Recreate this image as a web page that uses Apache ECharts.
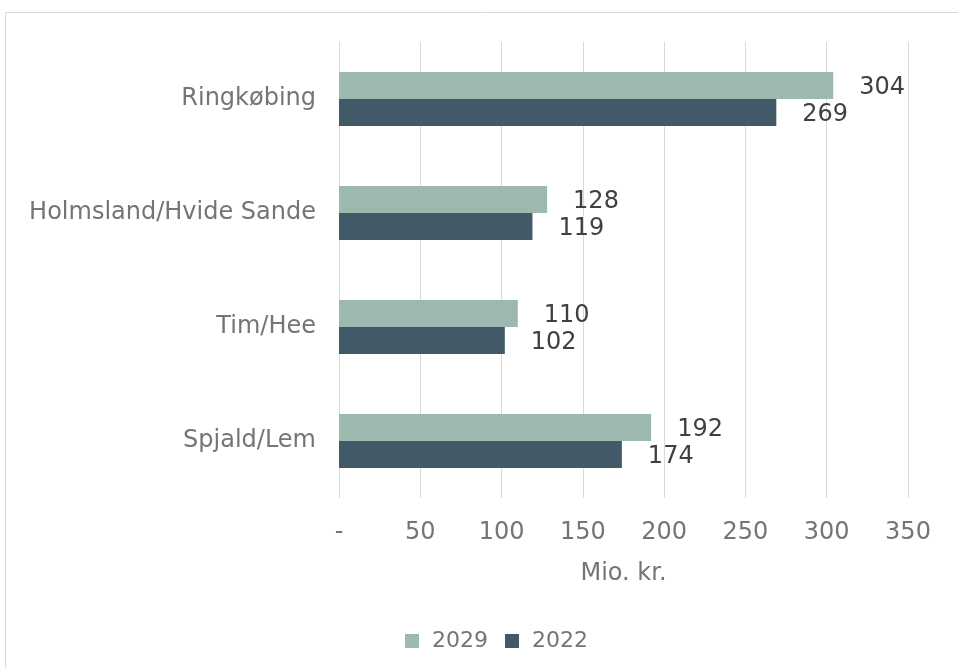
<!DOCTYPE html>
<html>
<head>
<meta charset="utf-8">
<script src="https://cdn.jsdelivr.net/npm/echarts@6/dist/echarts.min.js"></script>
<style>
html,body{margin:0;padding:0;background:#fff;}
#chart{width:958px;height:668px;}
</style>
</head>
<body>
<div id="chart"></div>
<script>
const categories = ['Ringkøbing', 'Holmsland/Hvide Sande', 'Tim/Hee', 'Spjald/Lem'];
const values2029 = [304, 128, 110, 192];
const values2022 = [269, 119, 102, 174];
const seriesNames = ['2029', '2022'];
const axisName = 'Mio. kr.';

const FONT = 'DejaVu Sans';
const GREY = '#757575';
const chart = echarts.init(document.getElementById('chart'));
const labelCfg = {
  show: true, position: 'right', distance: 26, offset: [0, 2],
  fontFamily: FONT, fontSize: 24, color: '#404040'
};
chart.setOption({
  animation: false,
  graphic: [{
    type: 'rect', silent: true,
    shape: { x: 5.5, y: 12.5, width: 1000, height: 1000 },
    style: { fill: 'none', stroke: '#d9d9d9', lineWidth: 1 }
  }],
  grid: { left: 339, right: 50, top: 42, bottom: 170 },
  legend: {
    bottom: 11, left: 400, itemWidth: 14, itemHeight: 14, itemGap: 17,
    icon: 'rect',
    textStyle: { fontFamily: FONT, fontSize: 22, color: GREY, padding: [0, 0, 0, 8] },
    data: seriesNames
  },
  xAxis: {
    type: 'value', min: 0, max: 350, interval: 50,
    name: axisName, nameLocation: 'middle', nameGap: 64,
    nameTextStyle: { fontFamily: FONT, fontSize: 24, color: GREY },
    axisLine: { show: false }, axisTick: { show: false },
    splitLine: { show: true, lineStyle: { color: '#d9d9d9', width: 1 } },
    axisLabel: {
      margin: 23, fontFamily: FONT, fontSize: 24, color: GREY,
      formatter: v => v === 0 ? '-' : String(v)
    }
  },
  yAxis: {
    type: 'category', data: categories, inverse: true,
    axisLine: { show: true, lineStyle: { color: '#d9d9d9', width: 1 } },
    axisTick: { show: false },
    axisLabel: { margin: 23, fontFamily: FONT, fontSize: 24, color: GREY }
  },
  series: [
    { name: seriesNames[0], type: 'bar', data: values2029, barWidth: 27, barGap: '0%',
      itemStyle: { color: '#9db8ae' }, label: labelCfg },
    { name: seriesNames[1], type: 'bar', data: values2022, barWidth: 27, barGap: '0%',
      itemStyle: { color: '#425a68' }, label: labelCfg }
  ]
});
</script>
</body>
</html>
